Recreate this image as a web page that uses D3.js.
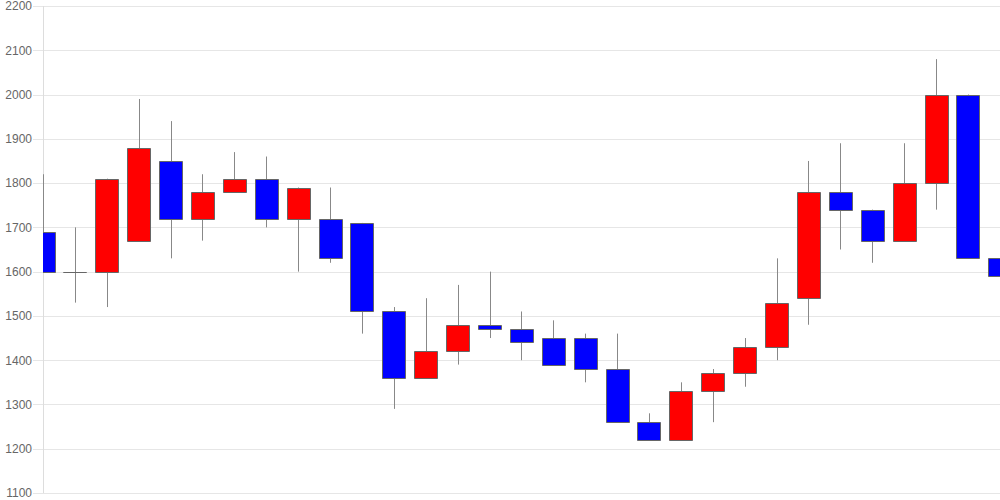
<!DOCTYPE html>
<html>
<head>
<meta charset="utf-8">
<script src="https://cdn.jsdelivr.net/npm/d3@7"></script>
<style>
  html, body { margin: 0; padding: 0; background: #fff; }
  svg { display: block; }
</style>
</head>
<body>
<svg id="chart" width="1000" height="500"></svg>
<script>
// ---- data ----
const categories = d3.range(1, 32).map(String);
const opens  = [1690,1600,1600,1670,1850,1720,1780,1810,1720,1720,1710,1510,1360,1420,1480,1470,1450,1450,1380,1260,1220,1330,1370,1430,1540,1780,1740,1670,1800,2000,1630];
const highs  = [1820,1700,1810,1990,1940,1820,1870,1860,1790,1790,1710,1520,1540,1570,1600,1510,1490,1460,1460,1280,1350,1380,1450,1630,1850,1890,1740,1890,2080,2000,1720];
const lows   = [1600,1530,1520,1670,1630,1670,1780,1700,1600,1620,1460,1290,1360,1390,1450,1400,1390,1350,1260,1220,1220,1260,1340,1400,1480,1650,1620,1670,1740,1630,1580];
const closes = [1600,1600,1810,1880,1720,1780,1810,1720,1790,1630,1510,1360,1420,1480,1470,1440,1390,1380,1260,1220,1330,1370,1430,1530,1780,1740,1670,1800,2000,1630,1590];
const yTicks = [1100,1200,1300,1400,1500,1600,1700,1800,1900,2000,2100,2200];

// ---- layout ----
const W = 1000, H = 500;
const mLeft = 43, mRight = 1000, mTop = 6, mBottom = 493;
const svg = d3.select("#chart");

const x = d3.scalePoint().domain(categories).range([mLeft, mRight - 0.2]);
const y = d3.scaleLinear().domain([1100, 2200]).range([mBottom, mTop]);
const bodyW = 23;

// gridlines
const gy = svg.append("g").attr("transform", `translate(${mRight},0)`);
gy.call(d3.axisLeft(y).tickValues(yTicks).tickSize(mRight - 33).tickFormat(""));
gy.select(".domain").remove();
gy.selectAll(".tick line").attr("stroke", "#e6e6e6").attr("shape-rendering", "crispEdges");

// labels
const gl = svg.append("g").attr("transform", `translate(33,0)`);
gl.call(d3.axisLeft(y).tickValues(yTicks).tickSize(0).tickPadding(1).tickFormat(d3.format("d")));
gl.select(".domain").remove();
gl.selectAll(".tick text")
  .attr("fill", "#666")
  .attr("font-family", "Liberation Sans, Arial, sans-serif")
  .attr("font-size", 12);

// vertical axis line
svg.append("line")
  .attr("x1", mLeft + 0.5).attr("x2", mLeft + 0.5)
  .attr("y1", mTop).attr("y2", mBottom)
  .attr("stroke", "#dddddd");

// clip
svg.append("defs").append("clipPath").attr("id", "plotclip")
  .append("rect").attr("x", mLeft).attr("y", 0).attr("width", mRight - mLeft).attr("height", H);

const data = categories.map((c, i) => ({c, o: opens[i], h: highs[i], l: lows[i], cl: closes[i]}));
const plot = svg.append("g").attr("clip-path", "url(#plotclip)");

const cg = plot.selectAll("g.candle").data(data).join("g").attr("class", "candle");
cg.append("line")
  .attr("x1", d => Math.round(x(d.c)) + 0.5)
  .attr("x2", d => Math.round(x(d.c)) + 0.5)
  .attr("y1", d => y(d.h))
  .attr("y2", d => y(d.l))
  .attr("stroke", "#888")
  .attr("stroke-width", 1);
cg.append("path")
  .attr("d", d => {
    const x0 = Math.round(x(d.c) - bodyW / 2) + 0.5;
    const y0 = Math.round(y(Math.max(d.o, d.cl))) + 0.5;
    const h = Math.max(0, Math.round(y(Math.min(d.o, d.cl))) - Math.round(y(Math.max(d.o, d.cl))));
    return `M${x0},${y0}h${bodyW}v${h}h${-bodyW}Z`;
  })
  .attr("fill", d => d.cl > d.o ? "#ff0000" : "#0000ff")
  .attr("stroke", "#666")
  .attr("stroke-width", 1);
</script>
</body>
</html>
